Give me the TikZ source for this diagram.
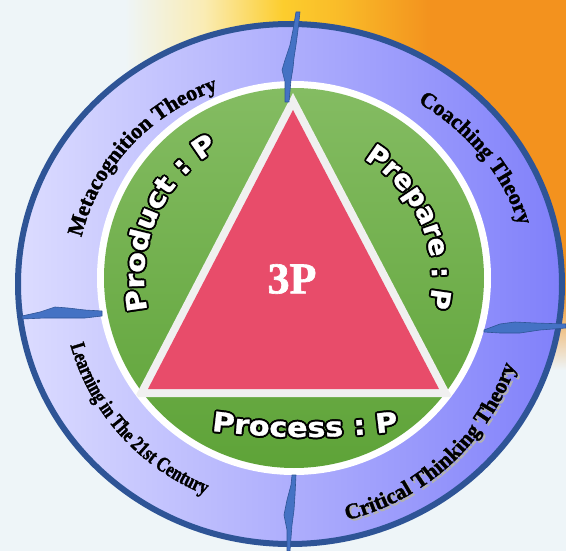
\documentclass[tikz,border=0pt]{standalone}
\usepackage{fontspec}
\usetikzlibrary{decorations.text,fadings}
\newfontfamily\tnr{Liberation Serif}[FakeBold=1.5]
\newfontfamily\tnrcond{Liberation Serif}[FakeStretch=0.78, FakeBold=1.5]
\newfontfamily\dvsW{DejaVu Sans}[FakeStretch=1.12, FakeBold=1]
\newfontfamily\dvsWn{DejaVu Sans}[FakeStretch=1.02, FakeBold=1]
\definecolor{bgbase}{RGB}{238,245,248}
\definecolor{bgpale}{RGB}{250,236,180}
\definecolor{bgyellow}{RGB}{252,205,45}
\definecolor{bgorange}{RGB}{243,146,30}
\definecolor{ringL}{RGB}{220,220,255}
\definecolor{ringR}{RGB}{128,128,250}
\definecolor{ringborder}{RGB}{46,84,150}
\definecolor{greenT}{RGB}{132,188,98}
\definecolor{greenB}{RGB}{94,163,56}
\definecolor{trired}{RGB}{232,76,106}
\definecolor{trigray}{RGB}{240,240,240}
\definecolor{divfill}{RGB}{68,114,196}
\definecolor{divdraw}{RGB}{47,85,151}
\pgfdeclarehorizontalshading{bgshade}{100bp}{color(0bp)=(bgbase); color(25bp)=(bgbase); color(36bp)=(bgbase); color(43bp)=(bgpale); color(50bp)=(bgyellow); color(55bp)=(bgyellow!70!bgorange); color(63bp)=(bgorange); color(75bp)=(bgorange); color(100bp)=(bgorange)}
\tikzfading[name=fadedown, top color=transparent!0, bottom color=transparent!100]
\newcommand\outerfnt{\tnr\bfseries\fontsize{22}{22}\selectfont}
\newcommand\condfnt{\tnrcond\bfseries\fontsize{21}{21}\selectfont}
% #1 font, #2 text, #3 path
\newcommand\outlinedarc[3]{%
  \foreach \ang in {0,45,...,315}{%
    \path[shift={(\ang:2pt)}, decorate, decoration={text along path, text align=center, text={|#1\bfseries\fontsize{27}{27}\selectfont\color{black}|#2}}] #3;}%
  \path[decorate, decoration={text along path, text align=center, text={|#1\bfseries\fontsize{27}{27}\selectfont\color{white}|#2}}] #3;}
\tikzset{
  divider/.style={fill=divfill, draw=divdraw, line width=0.6pt, line join=round},
  ringtext/.style={decorate, decoration={text along path, text align=center, text={|\outerfnt|#1}}},
}
\begin{document}
\begin{tikzpicture}[x=1pt,y=1pt]
\useasboundingbox (0,0) rectangle (566,-551);
% background
\fill[bgbase] (0,0) rectangle (566,-551);
\shade[shading=bgshade] (0,0) rectangle (566,-290);
\shade[shading=bgshade, path fading=fadedown] (0,-289) rectangle (566,-370);
% outer ring
\shade[left color=ringL, right color=ringR] (290,-284) ellipse [x radius=272pt, y radius=260pt];
\draw[ringborder, line width=6pt] (290,-284) ellipse [x radius=272pt, y radius=260pt];
% inner disc
\fill[white] (294,-278) circle[radius=197pt];
\shade[top color=greenT, bottom color=greenB] (294,-278) circle[radius=190pt];
\begin{scope}
  \clip (294,-278) circle[radius=196pt];
  \fill[trigray] (293,-93) -- (135,-397) -- (452,-397) -- cycle;
\end{scope}
\fill[trired] (293,-110) -- (148,-389) -- (439,-389) -- cycle;
\node[text=white, font=\tnr\bfseries\fontsize{44}{44}\selectfont] (c) at (292,-279) {3P};
% dividers
\draw[divider] (296,-12) -- (300,-12) -- (298,-30) -- (296,-45) -- (294,-58) -- (293,-68) -- (291,-80) -- (289,-102) -- (285,-102) -- (285,-82) -- (282,-70) -- (285,-60) -- (290,-45) -- (293,-30) -- cycle;
\draw[divider] (22,-316) -- (40,-312) -- (55,-307) -- (68,-308) -- (85,-310) -- (102,-311) -- (102,-316) -- (85,-318) -- (65,-318) -- (45,-318) -- (22,-319) -- cycle;
\draw[divider] (484,-330) -- (500,-324) -- (515,-322) -- (535,-323) -- (566,-324) -- (566,-328) -- (540,-330) -- (520,-333) -- (500,-333) -- (484,-332) -- cycle;
\draw[divider] (292,-475) -- (296,-475) -- (295,-495) -- (294,-510) -- (292,-525) -- (290,-551) -- (287,-551) -- (287,-530) -- (284,-515) -- (287,-500) -- (291,-485) -- cycle;
% ring texts
\path[ringtext={Metacognition Theory}] (290,-284) ++(180:214pt and 206pt) arc[start angle=180, end angle=97, x radius=214pt, y radius=206pt];
\path[ringtext={Coaching Theory}] (290,-284) ++(78:238pt and 215pt) arc[start angle=78, end angle=-6.6, x radius=238pt, y radius=215pt];
\path[decorate, decoration={text along path, text align=center, text={|\condfnt|Learning in The 21st Century}}] (290,-284) ++(180:228pt and 227pt) arc[start angle=180, end angle=263.7, x radius=228pt, y radius=227pt];
\path[shift={(2pt,-2pt)}, decorate, decoration={text along path, text align=center, text={|\outerfnt\color{black!30}|Critical Thinking Theory}}] (290,-284) ++(266:240pt and 243pt) arc[start angle=266, end angle=357.8, x radius=240pt, y radius=243pt];
\path[ringtext={Critical Thinking Theory}] (290,-284) ++(266:240pt and 243pt) arc[start angle=266, end angle=357.8, x radius=240pt, y radius=243pt];
% inner labels
\outlinedarc{\dvsW}{Product : P}{(294,-278) ++(206:150pt) arc[start angle=206, end angle=106.8, radius=150pt]}
\outlinedarc{\dvsWn}{Prepare : P}{(294,-278) ++(73.5:138pt) arc[start angle=73.5, end angle=-26.5, radius=138pt]}
\outlinedarc{\dvsW}{Process : P}{(305,263) ++(255:700pt) arc[start angle=255, end angle=285, radius=700pt]}
\end{tikzpicture}
\end{document}
